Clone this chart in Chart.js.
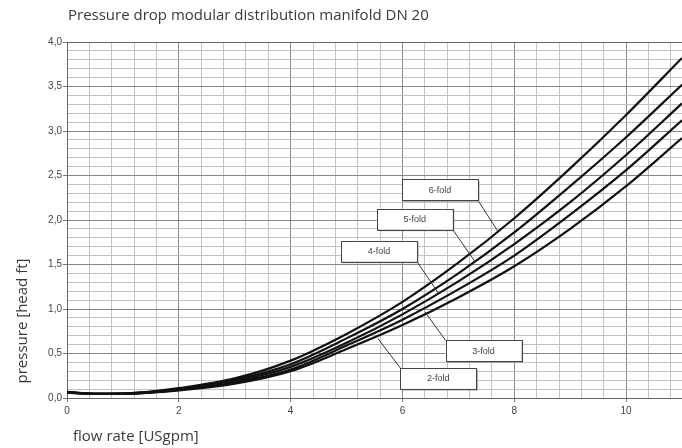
<!DOCTYPE html>
<html>
<head>
<meta charset="utf-8">
<script src="https://cdn.jsdelivr.net/npm/chart.js@4/dist/chart.umd.min.js"></script>
<style>
  html, body { margin: 0; padding: 0; background: #fff; }
  canvas { display: block; }
</style>
</head>
<body>
<canvas id="chart" width="682" height="448"></canvas>
<script>
// flow rate [USgpm]
const flow = [0, 0.5, 1, 1.5, 2, 3, 4, 5, 6, 7, 8, 9, 10, 11];

// pressure [head ft], one array per manifold size
const fold2 = [0.06, 0.045, 0.045, 0.06, 0.085, 0.16, 0.30, 0.55, 0.82, 1.13, 1.48, 1.90, 2.38, 2.92];
const fold3 = [0.06, 0.046, 0.046, 0.063, 0.09, 0.175, 0.32, 0.59, 0.88, 1.22, 1.60, 2.06, 2.56, 3.12];
const fold4 = [0.065, 0.047, 0.048, 0.066, 0.095, 0.19, 0.35, 0.62, 0.94, 1.31, 1.73, 2.20, 2.73, 3.31];
const fold5 = [0.065, 0.048, 0.05, 0.07, 0.10, 0.205, 0.38, 0.67, 1.00, 1.40, 1.86, 2.38, 2.93, 3.52];
const fold6 = [0.07, 0.05, 0.052, 0.073, 0.11, 0.22, 0.42, 0.72, 1.08, 1.52, 2.02, 2.58, 3.18, 3.82];

const seriesNames = ["2-fold", "3-fold", "4-fold", "5-fold", "6-fold"];
const seriesValues = [fold2, fold3, fold4, fold5, fold6];

// callout boxes (data units): box centre and the point on the curve it points to
const boxX = [6.64, 7.45, 5.58, 6.22, 6.67];
const boxY = [0.22, 0.53, 1.65, 2.01, 2.34];
const pointX = [5.56, 6.4, 6.64, 7.3, 7.71];
const pointY = [0.67, 0.97, 1.18, 1.53, 1.87];

const xTickStep = 0.4;
const yTickStep = 0.1;

function isMultiple(v, step) {
  const r = v / step;
  return Math.abs(r - Math.round(r)) < 1e-6;
}

// titles + callout boxes
const extras = {
  id: "extras",
  afterDatasetsDraw(chart) {
    const ctx = chart.ctx;
    const xs = chart.scales.x;
    const ys = chart.scales.y;

    ctx.save();
    // callouts
    const bw = 76, bh = 21;
    ctx.font = "9px 'Liberation Sans', Arial, sans-serif";
    ctx.textAlign = "center";
    ctx.textBaseline = "middle";
    seriesNames.forEach((name, i) => {
      const cx = xs.getPixelForValue(boxX[i]);
      const cy = ys.getPixelForValue(boxY[i]);
      const tx = xs.getPixelForValue(pointX[i]);
      const ty = ys.getPixelForValue(pointY[i]);
      const left = cx - bw / 2, top = cy - bh / 2;
      const sx = tx > cx ? left + bw : left;
      const sy = ty > cy ? top + bh : top;

      ctx.strokeStyle = "#333";
      ctx.lineWidth = 1;
      ctx.beginPath();
      ctx.moveTo(sx, sy);
      ctx.lineTo(tx, ty);
      ctx.stroke();

      ctx.fillStyle = "#999";
      ctx.fillRect(left + 1.5, top + 1.5, bw, bh);
      ctx.fillStyle = "#fff";
      ctx.fillRect(left, top, bw, bh);
      ctx.strokeStyle = "#444";
      ctx.strokeRect(Math.round(left) + 0.5, Math.round(top) + 0.5, bw, bh);

      ctx.fillStyle = "#444";
      ctx.fillText(name, cx, cy + 0.5);
    });

    // titles
    ctx.fillStyle = "#3a3a3a";
    ctx.font = "15px 'Open Sans', sans-serif";
    ctx.textAlign = "left";
    ctx.textBaseline = "alphabetic";
    ctx.fillText("Pressure drop modular distribution manifold DN 20", 68, 20);

    ctx.textBaseline = "middle";
    ctx.fillText("flow rate [USgpm]", 73, 437);

    ctx.translate(23, 321);
    ctx.rotate(-Math.PI / 2);
    ctx.textAlign = "center";
    ctx.fillText("pressure [head ft]", 0, 0);
    ctx.restore();
  },
};

new Chart(document.getElementById("chart"), {
  type: "line",
  data: {
    datasets: seriesValues.map((vals, i) => ({
      label: seriesNames[i],
      data: flow.map((x, j) => ({ x, y: vals[j] })),
      borderColor: "#111",
      borderWidth: 2.2,
      pointRadius: 0,
      fill: false,
      cubicInterpolationMode: "monotone",
    })),
  },
  options: {
    responsive: false,
    animation: false,
    devicePixelRatio: 1,
    layout: { padding: { top: 42, left: 0, right: 0, bottom: 0 } },
    plugins: { legend: { display: false }, tooltip: { enabled: false } },
    scales: {
      x: {
        type: "linear",
        min: 0,
        max: 11,
        afterFit: (s) => { s.height = 50; },
        border: { color: "#666" },
        grid: {
          color: (c) => (isMultiple(c.tick.value, 2) ? "#888" : "#c2c2c2"),
          tickColor: (c) => (isMultiple(c.tick.value, 2) ? "#777" : "rgba(0,0,0,0)"),
          tickLength: 4,
        },
        ticks: {
          stepSize: xTickStep,
          includeBounds: false,
          autoSkip: false,
          maxRotation: 0,
          padding: 3,
          color: "#444",
          font: { size: 10, family: "'Liberation Sans', Arial, sans-serif" },
          callback: (v) => (isMultiple(v, 2) ? String(Math.round(v)) : ""),
        },
      },
      y: {
        min: 0,
        max: 4,
        afterFit: (s) => { s.width = 67; },
        border: { color: "#666" },
        grid: {
          color: (c) => {
            const v = c.tick.value;
            if (isMultiple(v, 4)) return "#666";
            return isMultiple(v, 0.5) ? "#888" : "#c2c2c2";
          },
          tickColor: (c) => (isMultiple(c.tick.value, 0.5) ? "#777" : "rgba(0,0,0,0)"),
          tickLength: 4,
        },
        ticks: {
          stepSize: yTickStep,
          autoSkip: false,
          padding: 1,
          color: "#444",
          font: { size: 10, family: "'Liberation Sans', Arial, sans-serif" },
          callback: (v) => (isMultiple(v, 0.5) ? v.toFixed(1).replace(".", ",") : ""),
        },
      },
    },
  },
  plugins: [extras],
});
</script>
</body>
</html>
